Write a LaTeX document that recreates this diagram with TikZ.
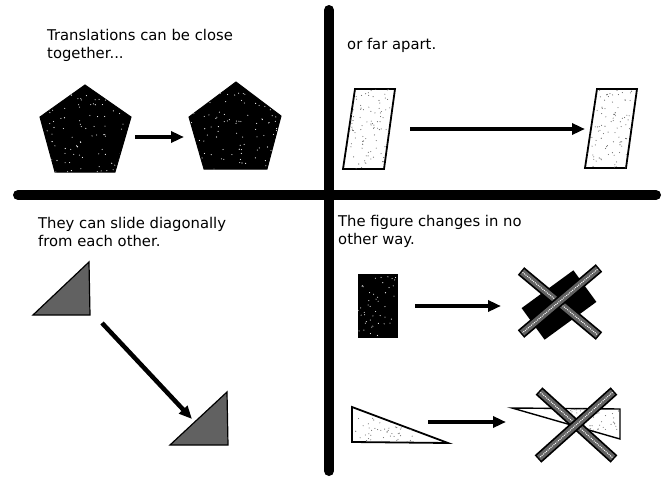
\documentclass[tikz,border=0pt]{standalone}
\usepackage{fontspec}
\setmainfont{DejaVu Sans}
\usetikzlibrary{arrows.meta}
\tikzset{
  divider/.style={line width=10pt, line cap=round, black},
  arr/.style={line width=4.5pt, -{Triangle[length=13pt,width=11pt]}},
  caption/.style={anchor=north west, inner sep=0pt, align=left, font=\fontsize{14.8}{18.5}\selectfont},
  darkshape/.style={fill=black, draw=black, line width=1pt},
  lightshape/.style={fill=white, draw=black, line width=1.8pt},
  grayshape/.style={fill=black!62, draw=black, line width=1.2pt},
  barout/.style={line width=10pt, black},
  barin/.style={line width=6.5pt, black!62, shorten <=1.5pt, shorten >=1.5pt},
  barmid/.style={line width=1pt, white, dash pattern=on 1pt off 1pt, shorten <=2pt, shorten >=2pt},
}
\newcommand\speckle[6]{% color, count, cx, cy, hw, hh
  \foreach \k in {1,...,#2} {\fill[#1] ({#3+rnd*2*#5-#5},{#4+rnd*2*#6-#6}) circle (0.55pt);}}
\begin{document}
\begin{tikzpicture}[x=1pt,y=-1pt]
\pgfmathsetseed{7}
\useasboundingbox (0,0) rectangle (665,477);
\fill[white] (0,0) rectangle (665,477);

% dividers
\coordinate (vtop) at (329,10);
\coordinate (vbot) at (329,471);
\coordinate (hl) at (18,195);
\coordinate (hr) at (656,195);
\draw[divider] (vtop) -- (vbot);
\draw[divider] (hl) -- (hr);

% captions
\node[caption] (t1) at (47,29) {Translations can be close\\together...};
\node[caption] (t2) at (347,38) {or far apart.};
\node[caption] (t3) at (38,217) {They can slide diagonally\\from each other.};
\node[caption] (t4) at (338,215) {The figure changes in no\\other way.};

% --- top left: pentagons
\draw[darkshape] (85,85) -- (131,117) -- (115,172) -- (55,172) -- (40,117) -- cycle;
\begin{scope}
\clip (85,85) -- (131,117) -- (115,172) -- (55,172) -- (40,117) -- cycle;
\speckle{white}{110}{85}{130}{45}{45}
\end{scope}
\draw[darkshape] (236,82) -- (281,116) -- (267,169) -- (204,169) -- (189,117) -- cycle;
\begin{scope}
\clip (236,82) -- (281,116) -- (267,169) -- (204,169) -- (189,117) -- cycle;
\speckle{white}{110}{235}{126}{46}{44}
\end{scope}
\coordinate (a1s) at (135,137);
\coordinate (a1e) at (184,137);
\draw[arr] (a1s) -- (a1e);

% --- top right: parallelograms
\draw[lightshape] (355,89) -- (395,89) -- (384,169) -- (343,169) -- cycle;
\begin{scope}
\clip (355,89) -- (395,89) -- (384,169) -- (343,169) -- cycle;
\speckle{black!60}{110}{369}{129}{25}{40}
\end{scope}
\draw[lightshape] (597,89) -- (637,89) -- (626,168) -- (585,168) -- cycle;
\begin{scope}
\clip (597,89) -- (637,89) -- (626,168) -- (585,168) -- cycle;
\speckle{black!60}{110}{611}{128}{25}{40}
\end{scope}
\coordinate (a2s) at (410,129);
\coordinate (a2e) at (585,129);
\draw[arr] (a2s) -- (a2e);

% --- bottom left: triangles
\draw[grayshape] (89,262) -- (90,315) -- (33,315) -- cycle;
\draw[grayshape] (227,392) -- (228,445) -- (170,445) -- cycle;
\coordinate (a3s) at (102,323);
\coordinate (a3e) at (192,419);
\draw[arr] (a3s) -- (a3e);

% --- bottom right, upper row
\draw[darkshape] (358,274) rectangle (397,337);
\begin{scope}
\clip (358,274) rectangle (397,337);
\speckle{white}{45}{377}{305}{19}{31}
\end{scope}
\coordinate (a4s) at (415,306);
\coordinate (a4e) at (501,306);
\draw[arr] (a4s) -- (a4e);
\fill[black] (573.4,270.3) -- (596.4,301.9) -- (544.6,339.7) -- (521.6,308.1) -- cycle;
\coordinate (x1a) at (521,271);
\coordinate (x1b) at (599,336);
\coordinate (x2a) at (599,268);
\coordinate (x2b) at (521,334);
\draw[barout] (x1a) -- (x1b);
\draw[barin] (x1a) -- (x1b);
\draw[barmid] (x1a) -- (x1b);
\draw[barout] (x2a) -- (x2b);
\draw[barin] (x2a) -- (x2b);
\draw[barmid] (x2a) -- (x2b);

% --- bottom right, lower row
\draw[lightshape] (352,407) -- (352,442) -- (448,443) -- cycle;
\begin{scope}
\clip (352,407) -- (352,442) -- (448,443) -- cycle;
\speckle{black!60}{50}{385}{430}{30}{12}
\end{scope}
\coordinate (a5s) at (428,422);
\coordinate (a5e) at (506,422);
\draw[arr] (a5s) -- (a5e);
\draw[lightshape, line width=1.4pt] (512,408) -- (620,409) -- (620,439) -- cycle;
\begin{scope}
\clip (512,408) -- (620,409) -- (620,439) -- cycle;
\speckle{black!60}{50}{595}{420}{25}{12}
\end{scope}
\coordinate (x3a) at (539,391);
\coordinate (x3b) at (614,459);
\coordinate (x4a) at (614,391);
\coordinate (x4b) at (538,459);
\draw[barout] (x3a) -- (x3b);
\draw[barin] (x3a) -- (x3b);
\draw[barmid] (x3a) -- (x3b);
\draw[barout] (x4a) -- (x4b);
\draw[barin] (x4a) -- (x4b);
\draw[barmid] (x4a) -- (x4b);
\end{tikzpicture}
\end{document}
